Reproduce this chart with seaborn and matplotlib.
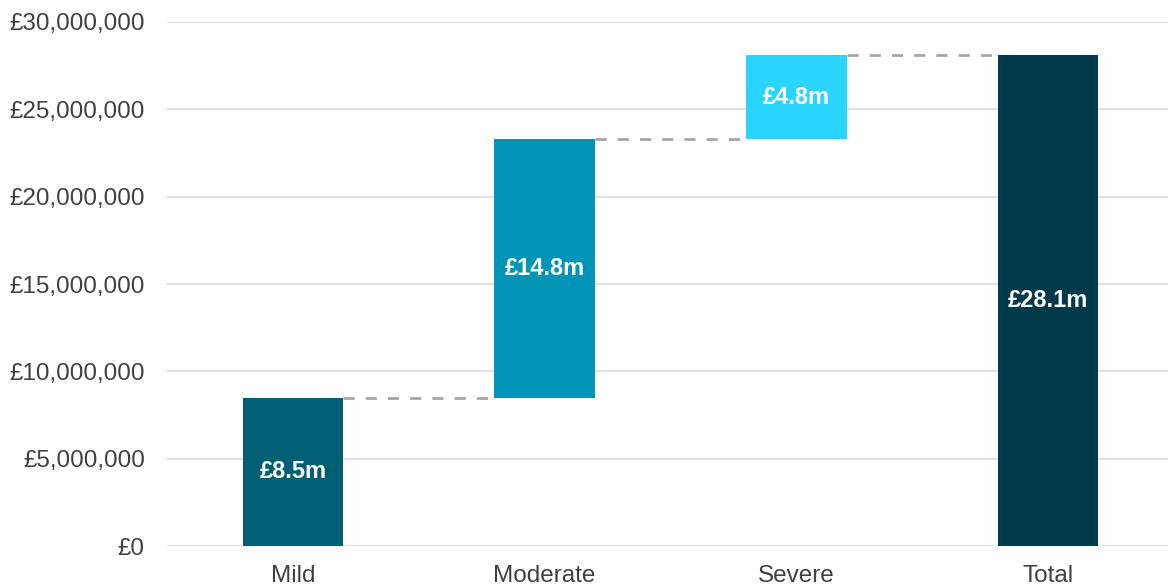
import matplotlib
matplotlib.use("Agg")
import matplotlib.pyplot as plt
import matplotlib.ticker as mticker
import seaborn as sns
import pandas as pd
import numpy as np

categories = ["Mild", "Moderate", "Severe", "Total"]
increments = [8.5e6, 14.8e6, 4.8e6]
total = 28.1e6
value_labels = ["£8.5m", "£14.8m", "£4.8m", "£28.1m"]
colors = ["#005f73", "#0095b6", "#29d5ff", "#003a4a"]

heights = increments + [total]
bottoms = list(np.concatenate([[0], np.cumsum(increments)[:-1]])) + [0]
df = pd.DataFrame({"category": categories, "height": heights, "bottom": bottoms})

sns.set_theme(style="white")
plt.rcParams["font.family"] = ["Liberation Sans", "DejaVu Sans"]

fig = plt.figure(figsize=(11.68, 5.88), dpi=100)
ax = fig.add_axes([0.143, 0.0714, 0.862, 0.8912])

sns.barplot(data=df, x="category", y="height", order=categories,
            color=colors[0], width=0.4, bottom=df["bottom"].values, ax=ax,
            linewidth=0, saturation=1, errorbar=None)
for patch, c in zip(ax.patches, colors):
    patch.set_facecolor(c)

ax.set_ylim(0, 30e6)
ax.set_xlim(-0.5, 3.5)
ax.yaxis.set_major_locator(mticker.MultipleLocator(5e6))
ax.yaxis.set_major_formatter(mticker.FuncFormatter(lambda v, p: f"£{v:,.0f}"))
ax.grid(axis="y", color="#e0e0e0", linewidth=1.5)
ax.set_axisbelow(True)
for s in ax.spines.values():
    s.set_visible(False)
ax.set_xlabel("")
ax.set_ylabel("")
ax.tick_params(axis="y", labelsize=17.5, labelcolor="#404040", length=0, pad=16)
ax.tick_params(axis="x", labelsize=17.5, labelcolor="#404040", length=0, pad=14)

tops = [b + h for b, h in zip(bottoms, heights)]
w = 0.4
for i in range(len(categories) - 1):
    ax.plot([i + w / 2, i + 1 - w / 2], [tops[i], tops[i]], linestyle=(0, (4, 4)),
            color="#a6a6a6", linewidth=2, zorder=1)

for i, lab in enumerate(value_labels):
    ax.text(i, bottoms[i] + heights[i] / 2, lab, ha="center", va="center",
            color="white", fontsize=17, fontweight="bold")

fig.savefig("out.png", dpi=100)
